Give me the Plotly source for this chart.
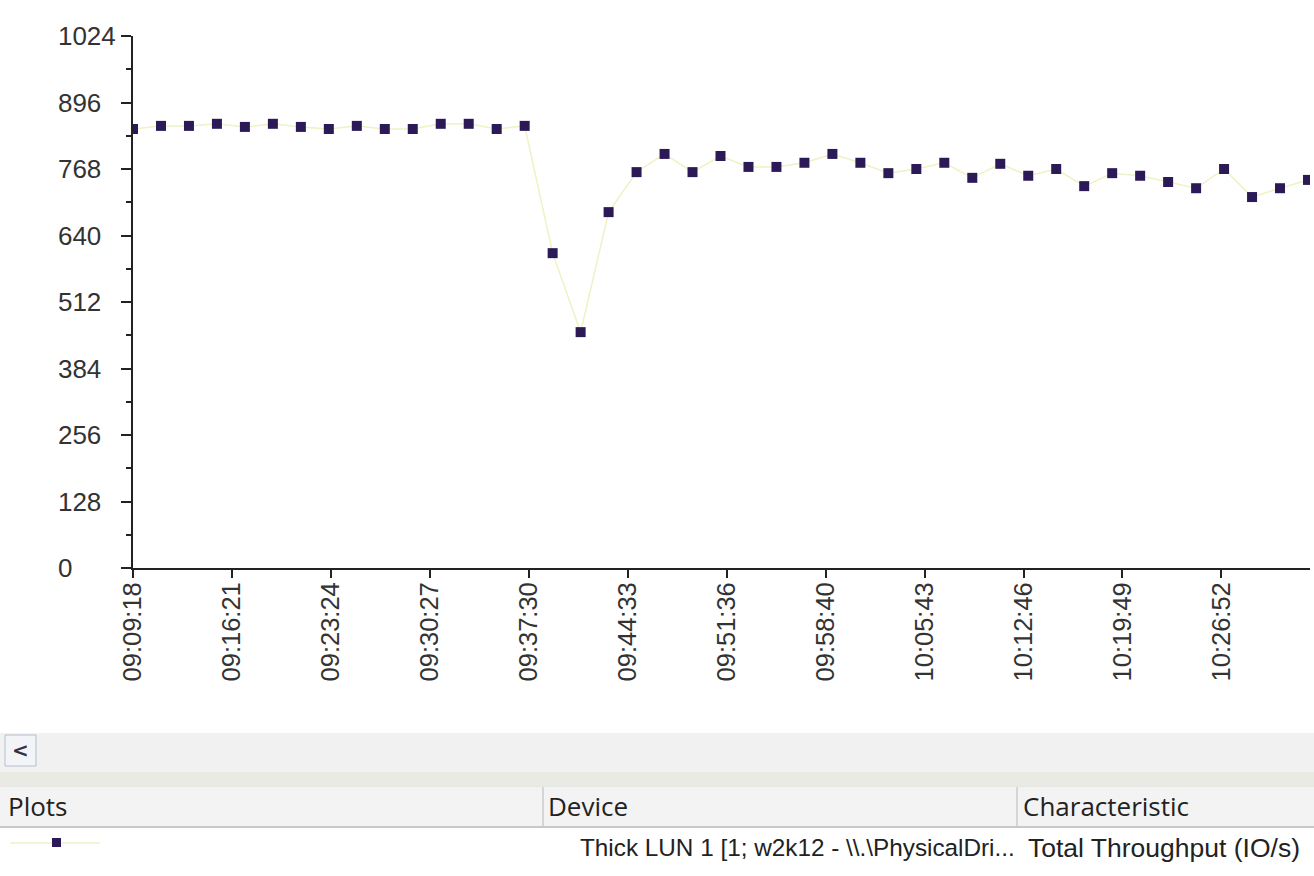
import plotly.graph_objects as go

# ---- data ----
sample_interval_s = 119.6
tick_interval_s = 423
throughput = [845, 851, 851, 855, 849, 855, 849, 845, 851, 845, 845, 855, 855, 845, 851,
              606, 454, 685, 762, 797, 762, 793, 772, 772, 780, 797, 780, 760, 768, 780,
              751, 778, 755, 768, 735, 760, 755, 743, 731, 768, 714, 731, 747]
x_tick_labels = ["09:09:18", "09:16:21", "09:23:24", "09:30:27", "09:37:30", "09:44:33",
                 "09:51:36", "09:58:40", "10:05:43", "10:12:46", "10:19:49", "10:26:52"]
y_tick_values = [0, 128, 256, 384, 512, 640, 768, 896, 1024]
header_labels = ["Plots", "Device", "Characteristic"]
row_device = "Thick LUN 1 [1; w2k12 - \\\\.\\PhysicalDri..."
row_characteristic = "Total Throughput (IO/s)"

elapsed = [i * sample_interval_s for i in range(len(throughput))]
x_tick_vals = [k * tick_interval_s for k in range(len(x_tick_labels))]

W, H = 1314, 876
L, R, T, B = 133, 4, 36, 308
PW, PH = W - L - R, H - T - B


def px(xp):
    return (xp - L) / PW


def py(yp):
    return (H - B - yp) / PH


def ylab(v):
    s = str(v)
    pad = 4 - len(s)
    if pad > 0:
        s += "<span style='color:rgba(0,0,0,0)'>" + "0" * pad + "</span>"
    return s


LINE_C = "#eef2c4"
MARK_C = "#2b1a57"

fig = go.Figure()
fig.add_trace(go.Scatter(
    x=elapsed, y=throughput, mode="lines+markers",
    line=dict(color=LINE_C, width=1.5),
    marker=dict(symbol="square", size=10, color=MARK_C),
    showlegend=False, cliponaxis=True,
))

x_end = elapsed[-1] * PW / (1308 - L)

fig.update_layout(
    width=W, height=H,
    margin=dict(l=L, r=R, t=T, b=B, pad=0),
    paper_bgcolor="white", plot_bgcolor="white",
    font=dict(family="Liberation Sans, Arial", size=25, color="#222"),
    xaxis=dict(
        range=[0, x_end], tickmode="array", tickvals=x_tick_vals, ticktext=x_tick_labels,
        tickangle=-90, ticks="outside", ticklen=8, tickwidth=2, tickcolor="#222",
        showline=True, linecolor="#222", linewidth=2, showgrid=False, zeroline=False,
        tickfont=dict(size=25.5, color="#333"), ticklabelstandoff=-6,
    ),
    yaxis=dict(
        range=[0, 1024], tickmode="array", tickvals=y_tick_values,
        ticktext=[ylab(v) for v in y_tick_values],
        ticks="outside", ticklen=10, tickwidth=2, tickcolor="#222",
        minor=dict(ticks="outside", ticklen=5, tickwidth=2, tickcolor="#222", dtick=64, tick0=0),
        showline=True, linecolor="#222", linewidth=2, showgrid=False, zeroline=False,
        tickfont=dict(size=26, color="#333"),
    ),
)

shapes = []
# scrollbar strip
shapes.append(dict(type="rect", xref="paper", yref="paper", x0=px(0), x1=px(W), y0=py(772), y1=py(733),
                   fillcolor="#f1f1f1", line=dict(width=0), layer="below"))
shapes.append(dict(type="rect", xref="paper", yref="paper", x0=px(0), x1=px(W), y0=py(785), y1=py(772),
                   fillcolor="#e9ebe2", line=dict(width=0), layer="below"))
shapes.append(dict(type="line", xref="paper", yref="paper", x0=px(0), x1=px(W), y0=py(786), y1=py(786),
                   line=dict(color="#d0d0d0", width=1)))
# scroll button
shapes.append(dict(type="rect", xref="paper", yref="paper", x0=px(5), x1=px(36), y0=py(766), y1=py(735),
                   fillcolor="#f3f4f8", line=dict(color="#b4bccb", width=1)))
# header
shapes.append(dict(type="rect", xref="paper", yref="paper", x0=px(0), x1=px(W), y0=py(826), y1=py(787),
                   fillcolor="#f3f3f3", line=dict(width=0), layer="below"))
shapes.append(dict(type="line", xref="paper", yref="paper", x0=px(0), x1=px(W), y0=py(827), y1=py(827),
                   line=dict(color="#c8c8c8", width=2)))
for sx in (543, 1017):
    shapes.append(dict(type="line", xref="paper", yref="paper", x0=px(sx), x1=px(sx), y0=py(826), y1=py(787),
                       line=dict(color="#b8b8b8", width=1)))
# legend sample in row
shapes.append(dict(type="line", xref="paper", yref="paper", x0=px(10), x1=px(100), y0=py(843), y1=py(843),
                   line=dict(color=LINE_C, width=1.5)))
shapes.append(dict(type="rect", xref="paper", yref="paper", x0=px(52), x1=px(61), y0=py(847), y1=py(838),
                   fillcolor=MARK_C, line=dict(width=0)))
fig.update_layout(shapes=shapes)

ann = []
ann.append(dict(text="<b>&lt;</b>", x=px(20.5), y=py(750), xref="paper", yref="paper", showarrow=False,
                xanchor="center", yanchor="middle", font=dict(family="DejaVu Sans", size=20, color="#334")))
hfont = dict(family="Open Sans", size=26, color="#222")
for lab, hx in zip(header_labels, (6, 546, 1021)):
    ann.append(dict(text=lab, x=px(hx), y=py(806), xref="paper", yref="paper", showarrow=False,
                    xanchor="left", yanchor="middle", font=hfont))
ann.append(dict(text=row_device, x=px(578), y=py(848), xref="paper", yref="paper", showarrow=False,
                xanchor="left", yanchor="middle",
                font=dict(family="Liberation Sans, Arial", size=24.3, color="#222")))
ann.append(dict(text=row_characteristic, x=px(1026), y=py(848), xref="paper", yref="paper", showarrow=False,
                xanchor="left", yanchor="middle",
                font=dict(family="Liberation Sans, Arial", size=26.5, color="#222")))
fig.update_layout(annotations=ann)

fig.write_html("out.html", config={"displayModeBar": False},
               post_script="document.body.style.margin='0';document.body.style.overflow='hidden';")
